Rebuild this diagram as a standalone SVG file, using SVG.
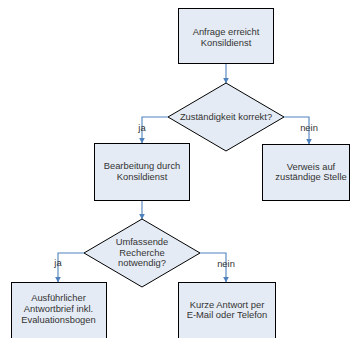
<svg xmlns="http://www.w3.org/2000/svg" width="350" height="338" viewBox="0 0 350 338">
<defs>
<style>
.n{fill:#E5EBF5;stroke:#000;stroke-width:1}
.t{font-family:"Liberation Sans",Arial,sans-serif;font-size:9.4px;fill:#333;text-anchor:middle}
.c{fill:none;stroke:#4F81BD;stroke-width:1.1}
</style>
<marker id="a" viewBox="0 0 10 10" refX="9" refY="5" markerWidth="6" markerHeight="6" markerUnits="userSpaceOnUse" orient="auto">
<path d="M0,0 L10,5 L0,10 z" fill="#4F81BD"/>
</marker>
</defs>
<rect width="350" height="338" fill="#fff"/>
<g id="connectors">
<path class="c" d="M226,63 V83" marker-end="url(#a)"/>
<path class="c" d="M168,117 H142 V143" marker-end="url(#a)"/>
<path class="c" d="M284,117 H309 V144" marker-end="url(#a)"/>
<path class="c" d="M142,200 V219" marker-end="url(#a)"/>
<path class="c" d="M84,253 H58 V282" marker-end="url(#a)"/>
<path class="c" d="M200,253 H226 V282" marker-end="url(#a)"/>
<text class="t" x="142" y="131">ja</text>
<text class="t" x="309" y="131">nein</text>
<text class="t" x="58" y="266">ja</text>
<text class="t" x="226" y="267">nein</text>
</g>
<g id="n1">
<rect class="n" x="178.5" y="8.5" width="95" height="55"/>
<text class="t" x="226" y="35">Anfrage erreicht</text>
<text class="t" x="226" y="46">Konsildienst</text>
</g>
<g id="d1">
<polygon class="n" points="226,83 284,117 226,151 168,117"/>
<text class="t" x="226" y="120">Zuständigkeit korrekt?</text>
</g>
<g id="n2">
<rect class="n" x="94.5" y="143.5" width="95" height="57"/>
<text class="t" x="142" y="169">Bearbeitung durch</text>
<text class="t" x="142" y="180">Konsildienst</text>
</g>
<g id="n3">
<rect class="n" x="262.5" y="144.5" width="87" height="56"/>
<text class="t" x="311" y="170">Verweis auf</text>
<text class="t" x="311" y="180">zuständige Stelle</text>
</g>
<g id="d2">
<polygon class="n" points="142,219 200,253 142,287 84,253"/>
<text class="t" x="142" y="245">Umfassende</text>
<text class="t" x="142" y="256">Recherche</text>
<text class="t" x="142" y="266">notwendig?</text>
</g>
<g id="n4">
<rect class="n" x="11.5" y="282.5" width="95" height="60"/>
<text class="t" x="58.5" y="301">Ausführlicher</text>
<text class="t" x="58.5" y="312">Antwortbrief inkl.</text>
<text class="t" x="58.5" y="323">Evaluationsbogen</text>
</g>
<g id="n5">
<rect class="n" x="178.5" y="282.5" width="97" height="60"/>
<text class="t" x="227" y="308">Kurze Antwort per</text>
<text class="t" x="227" y="318">E-Mail oder Telefon</text>
</g>
</svg>
